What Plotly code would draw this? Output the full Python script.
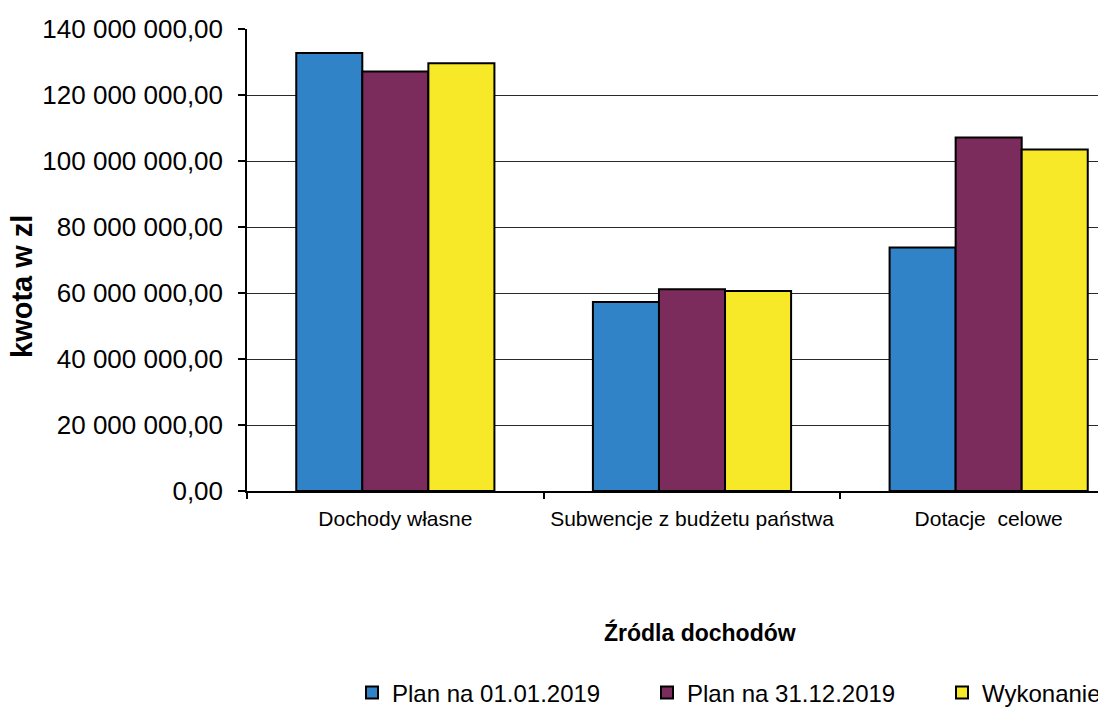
import plotly.graph_objects as go

categories = ["Dochody własne", "Subwencje z budżetu państwa", "Dotacje  celowe"]
series_names = ["Plan na 01.01.2019", "Plan na 31.12.2019", "Wykonanie"]
plan_start = [132.7e6, 57.3e6, 73.8e6]
plan_end = [127.1e6, 61.1e6, 107.1e6]
execution = [129.6e6, 60.6e6, 103.5e6]
y_tick_vals = [0, 20e6, 40e6, 60e6, 80e6, 100e6, 120e6, 140e6]
y_tick_text = ["0,00", "20 000 000,00", "40 000 000,00", "60 000 000,00",
               "80 000 000,00", "100 000 000,00", "120 000 000,00", "140 000 000,00"]
colors = ["#2F83C6", "#7B2C5C", "#F8E928"]

FONT = "Liberation Sans, Arial, sans-serif"
W, H = 1400, 713
L, T = 247, 29
PLOT_R, PLOT_B = 1137, 491
pw, ph = PLOT_R - L, PLOT_B - T

fig = go.Figure()
for name, vals, col in zip(series_names, [plan_start, plan_end, execution], colors):
    fig.add_trace(go.Bar(x=categories, y=vals, name=name,
                         marker=dict(color=col, line=dict(color="black", width=2))))

fig.update_layout(
    width=W, height=H,
    margin=dict(l=L, r=W - PLOT_R, t=T, b=H - PLOT_B, autoexpand=False),
    paper_bgcolor="white", plot_bgcolor="white",
    barmode="group", bargap=0.332, bargroupgap=0,
    font=dict(family=FONT, color="black"),
    showlegend=True,
    legend=dict(orientation="h", x=(352 - L) / pw, xanchor="left",
                yref="container", y=1 - 693 / H, yanchor="middle",
                font=dict(size=24, family=FONT), entrywidth=250, entrywidthmode="pixels",
                itemwidth=30, traceorder="normal"),
)
fig.update_yaxes(range=[0, 140e6], tickvals=y_tick_vals, ticktext=y_tick_text,
                 tickfont=dict(size=26, family=FONT), ticks="outside", ticklen=7,
                 tickcolor="black", tickwidth=1.5, showline=True, linecolor="black",
                 linewidth=1.5, showgrid=True, gridcolor="#2a2a2a", gridwidth=1.3,
                 zeroline=False, ticklabelstandoff=10)
fig.update_xaxes(tickfont=dict(size=21, family=FONT), ticks="outside", ticklen=6,
                 tickson="boundaries", tickcolor="black", tickwidth=1.5, tickangle=0,
                 showline=True, linecolor="black", linewidth=1.5, showgrid=False,
                 ticklabelstandoff=8)

fig.add_annotation(text="<b>kwota w zl</b>", xref="paper", yref="paper",
                   x=(22 - L) / pw, xanchor="center", y=(PLOT_B - 287) / ph, yanchor="middle",
                   textangle=-90, showarrow=False,
                   font=dict(size=29, family=FONT, color="black"))
fig.add_annotation(text="<b>Źródla dochodów</b>", xref="paper", yref="paper",
                   x=(700 - L) / pw, xanchor="center", y=(PLOT_B - 632) / ph, yanchor="middle",
                   showarrow=False, font=dict(size=23, family=FONT, color="black"))

fig.write_html("out.html", config={"displayModeBar": False},
               post_script="document.body.style.margin='0';document.body.style.overflow='hidden';document.documentElement.style.overflow='hidden';")
